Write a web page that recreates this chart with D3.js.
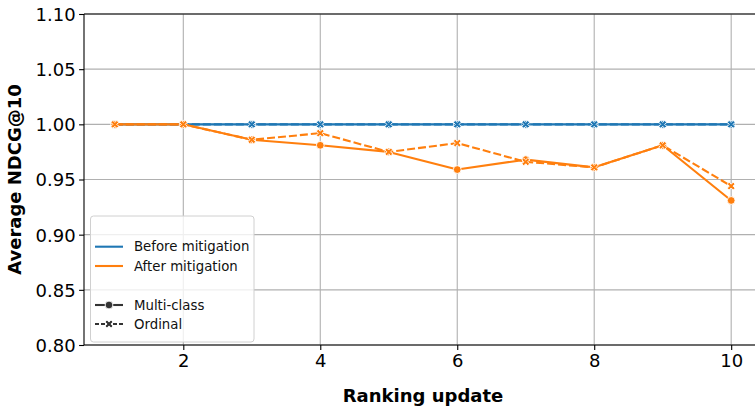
<!DOCTYPE html>
<html>
<head>
<meta charset="utf-8">
<script src="https://cdn.jsdelivr.net/npm/d3@7"></script>
<style>
  html, body { margin: 0; padding: 0; background: #fff; }
  svg { display: block; font-family: "DejaVu Sans", sans-serif; }
</style>
</head>
<body>
<svg id="chart" width="755" height="407"></svg>
<script>
// Ranking updates and average NDCG@10 per setting
const updates = [1, 2, 3, 4, 5, 6, 7, 8, 9, 10];
const beforeMulticlass = [1.0, 1.0, 1.0, 1.0, 1.0, 1.0, 1.0, 1.0, 1.0, 1.0];
const beforeOrdinal    = [1.0, 1.0, 1.0, 1.0, 1.0, 1.0, 1.0, 1.0, 1.0, 1.0];
const afterMulticlass  = [1.0, 1.0, 0.986, 0.981, 0.975, 0.959, 0.968, 0.961, 0.981, 0.931];
const afterOrdinal     = [1.0, 1.0, 0.986, 0.992, 0.975, 0.983, 0.966, 0.961, 0.981, 0.944];

const xTicks = [2, 4, 6, 8, 10];
const yTicks = [0.80, 0.85, 0.90, 0.95, 1.00, 1.05, 1.10];

const phaseLabels = ["Before mitigation", "After mitigation"];
const modelLabels = ["Multi-class", "Ordinal"];

const colors = { before: "#1f77b4", after: "#ff7f0e" };

const svg = d3.select("#chart");
const plotLeft = 84, plotRight = 762, plotTop = 14, plotBottom = 345;

const x = d3.scaleLinear().domain([0.55, 10.45]).range([plotLeft, plotRight]);
const y = d3.scaleLinear().domain([0.80, 1.10]).range([plotBottom, plotTop]);

// grid
const grid = svg.append("g").attr("stroke", "#b0b0b0").attr("stroke-width", 1.1);
xTicks.forEach(t => grid.append("line")
  .attr("x1", x(t)).attr("x2", x(t)).attr("y1", plotTop).attr("y2", plotBottom));
yTicks.forEach(t => grid.append("line")
  .attr("x1", plotLeft).attr("x2", plotRight).attr("y1", y(t)).attr("y2", y(t)));

// marker shapes
const xMarkerPath = (() => {
  const s = 4.2, w = 1.35;  // half extent, half arm width
  const pts = [[-w, -s], [w, -s], [w, -w], [s, -w], [s, w], [w, w], [w, s], [-w, s], [-w, w], [-s, w], [-s, -w], [-w, -w]];
  const c = Math.SQRT1_2;
  const p = pts.map(([a, b]) => [(a - b) * c, (a + b) * c]);
  return "M" + p.map(d => d[0].toFixed(2) + "," + d[1].toFixed(2)).join("L") + "Z";
})();

function drawMarker(g, kind, cx, cy, color) {
  if (kind === "circle") {
    g.append("circle").attr("cx", cx).attr("cy", cy).attr("r", 3.9)
      .attr("fill", color).attr("stroke", "#fff").attr("stroke-width", 0.9);
  } else {
    g.append("path").attr("d", xMarkerPath)
      .attr("transform", `translate(${cx},${cy})`)
      .attr("fill", color).attr("stroke", "#fff").attr("stroke-width", 0.9);
  }
}

const series = [
  { values: beforeMulticlass, color: colors.before, dash: null, marker: "circle" },
  { values: beforeOrdinal,    color: colors.before, dash: "8,3", marker: "x" },
  { values: afterMulticlass,  color: colors.after,  dash: null, marker: "circle" },
  { values: afterOrdinal,     color: colors.after,  dash: "8,3", marker: "x" }
];

const line = d3.line().x(d => x(d[0])).y(d => y(d[1]));

series.forEach(s => {
  const g = svg.append("g");
  const pts = updates.map((u, i) => [u, s.values[i]]);
  g.append("path").attr("d", line(pts))
    .attr("fill", "none").attr("stroke", s.color).attr("stroke-width", 2.1)
    .attr("stroke-dasharray", s.dash).attr("stroke-linejoin", "round");
  pts.forEach(p => drawMarker(g, s.marker, x(p[0]), y(p[1]), s.color));
});

// axes
const xAxis = d3.axisBottom(x).tickValues(xTicks).tickFormat(d3.format("d")).tickSize(4.9).tickPadding(3.5);
const yAxis = d3.axisLeft(y).tickValues(yTicks).tickFormat(d3.format(".2f")).tickSize(4.9).tickPadding(3.5);

const gx = svg.append("g").attr("transform", `translate(0,${plotBottom})`).call(xAxis);
const gy = svg.append("g").attr("transform", `translate(${plotLeft},0)`).call(yAxis);
[gx, gy].forEach(g => {
  g.select(".domain").remove();
  g.selectAll(".tick line").attr("stroke", "#000").attr("stroke-width", 1.1);
  g.selectAll(".tick text").attr("fill", "#000")
    .style("font-family", "DejaVu Sans").style("font-size", "18px");
});
gx.selectAll(".tick text").attr("y", 22.3).attr("dy", null);
gy.selectAll(".tick text").attr("dy", "0.36em");

// spines
const spines = svg.append("g").attr("stroke", "#000").attr("stroke-width", 1.1);
spines.append("line").attr("x1", plotLeft).attr("x2", plotLeft).attr("y1", plotTop).attr("y2", plotBottom);
spines.append("line").attr("x1", plotLeft).attr("x2", plotRight).attr("y1", plotBottom).attr("y2", plotBottom);
spines.append("line").attr("x1", plotLeft).attr("x2", plotRight).attr("y1", plotTop).attr("y2", plotTop);
spines.append("line").attr("x1", plotRight).attr("x2", plotRight).attr("y1", plotTop).attr("y2", plotBottom);

// axis titles
svg.append("text").attr("x", (plotLeft + plotRight) / 2).attr("y", 401.5)
  .attr("text-anchor", "middle").style("font-size", "18px").style("font-weight", "bold")
  .text("Ranking update");
svg.append("text")
  .attr("transform", `translate(20.5,${(plotTop + plotBottom) / 2}) rotate(-90)`)
  .attr("text-anchor", "middle").style("font-size", "18px").style("font-weight", "bold")
  .text("Average NDCG@10");

// legend
const lg = svg.append("g");
lg.append("rect").attr("x", 90.5).attr("y", 216).attr("width", 163.5).attr("height", 126)
  .attr("rx", 3).attr("fill", "#fff").attr("fill-opacity", 0.8)
  .attr("stroke", "#d0d0d0").attr("stroke-width", 1);

const rowY = [246.7, 266, 305, 324];
const entries = [
  { label: phaseLabels[0], color: colors.before, dash: null, marker: null },
  { label: phaseLabels[1], color: colors.after,  dash: null, marker: null },
  { label: modelLabels[0], color: "#333333", dash: null, marker: "circle" },
  { label: modelLabels[1], color: "#333333", dash: "4,2", marker: "x" }
];
entries.forEach((e, i) => {
  const ry = rowY[i];
  lg.append("line").attr("x1", 95).attr("x2", 123).attr("y1", ry).attr("y2", ry)
    .attr("stroke", e.color).attr("stroke-width", 2.1).attr("stroke-dasharray", e.dash);
  if (e.marker) drawMarker(lg, e.marker, 109, ry, e.color);
  lg.append("text").attr("x", 134).attr("y", ry).attr("dy", "0.36em")
    .style("font-size", "13.3px").attr("fill", "#111").text(e.label);
});
</script>
</body>
</html>
